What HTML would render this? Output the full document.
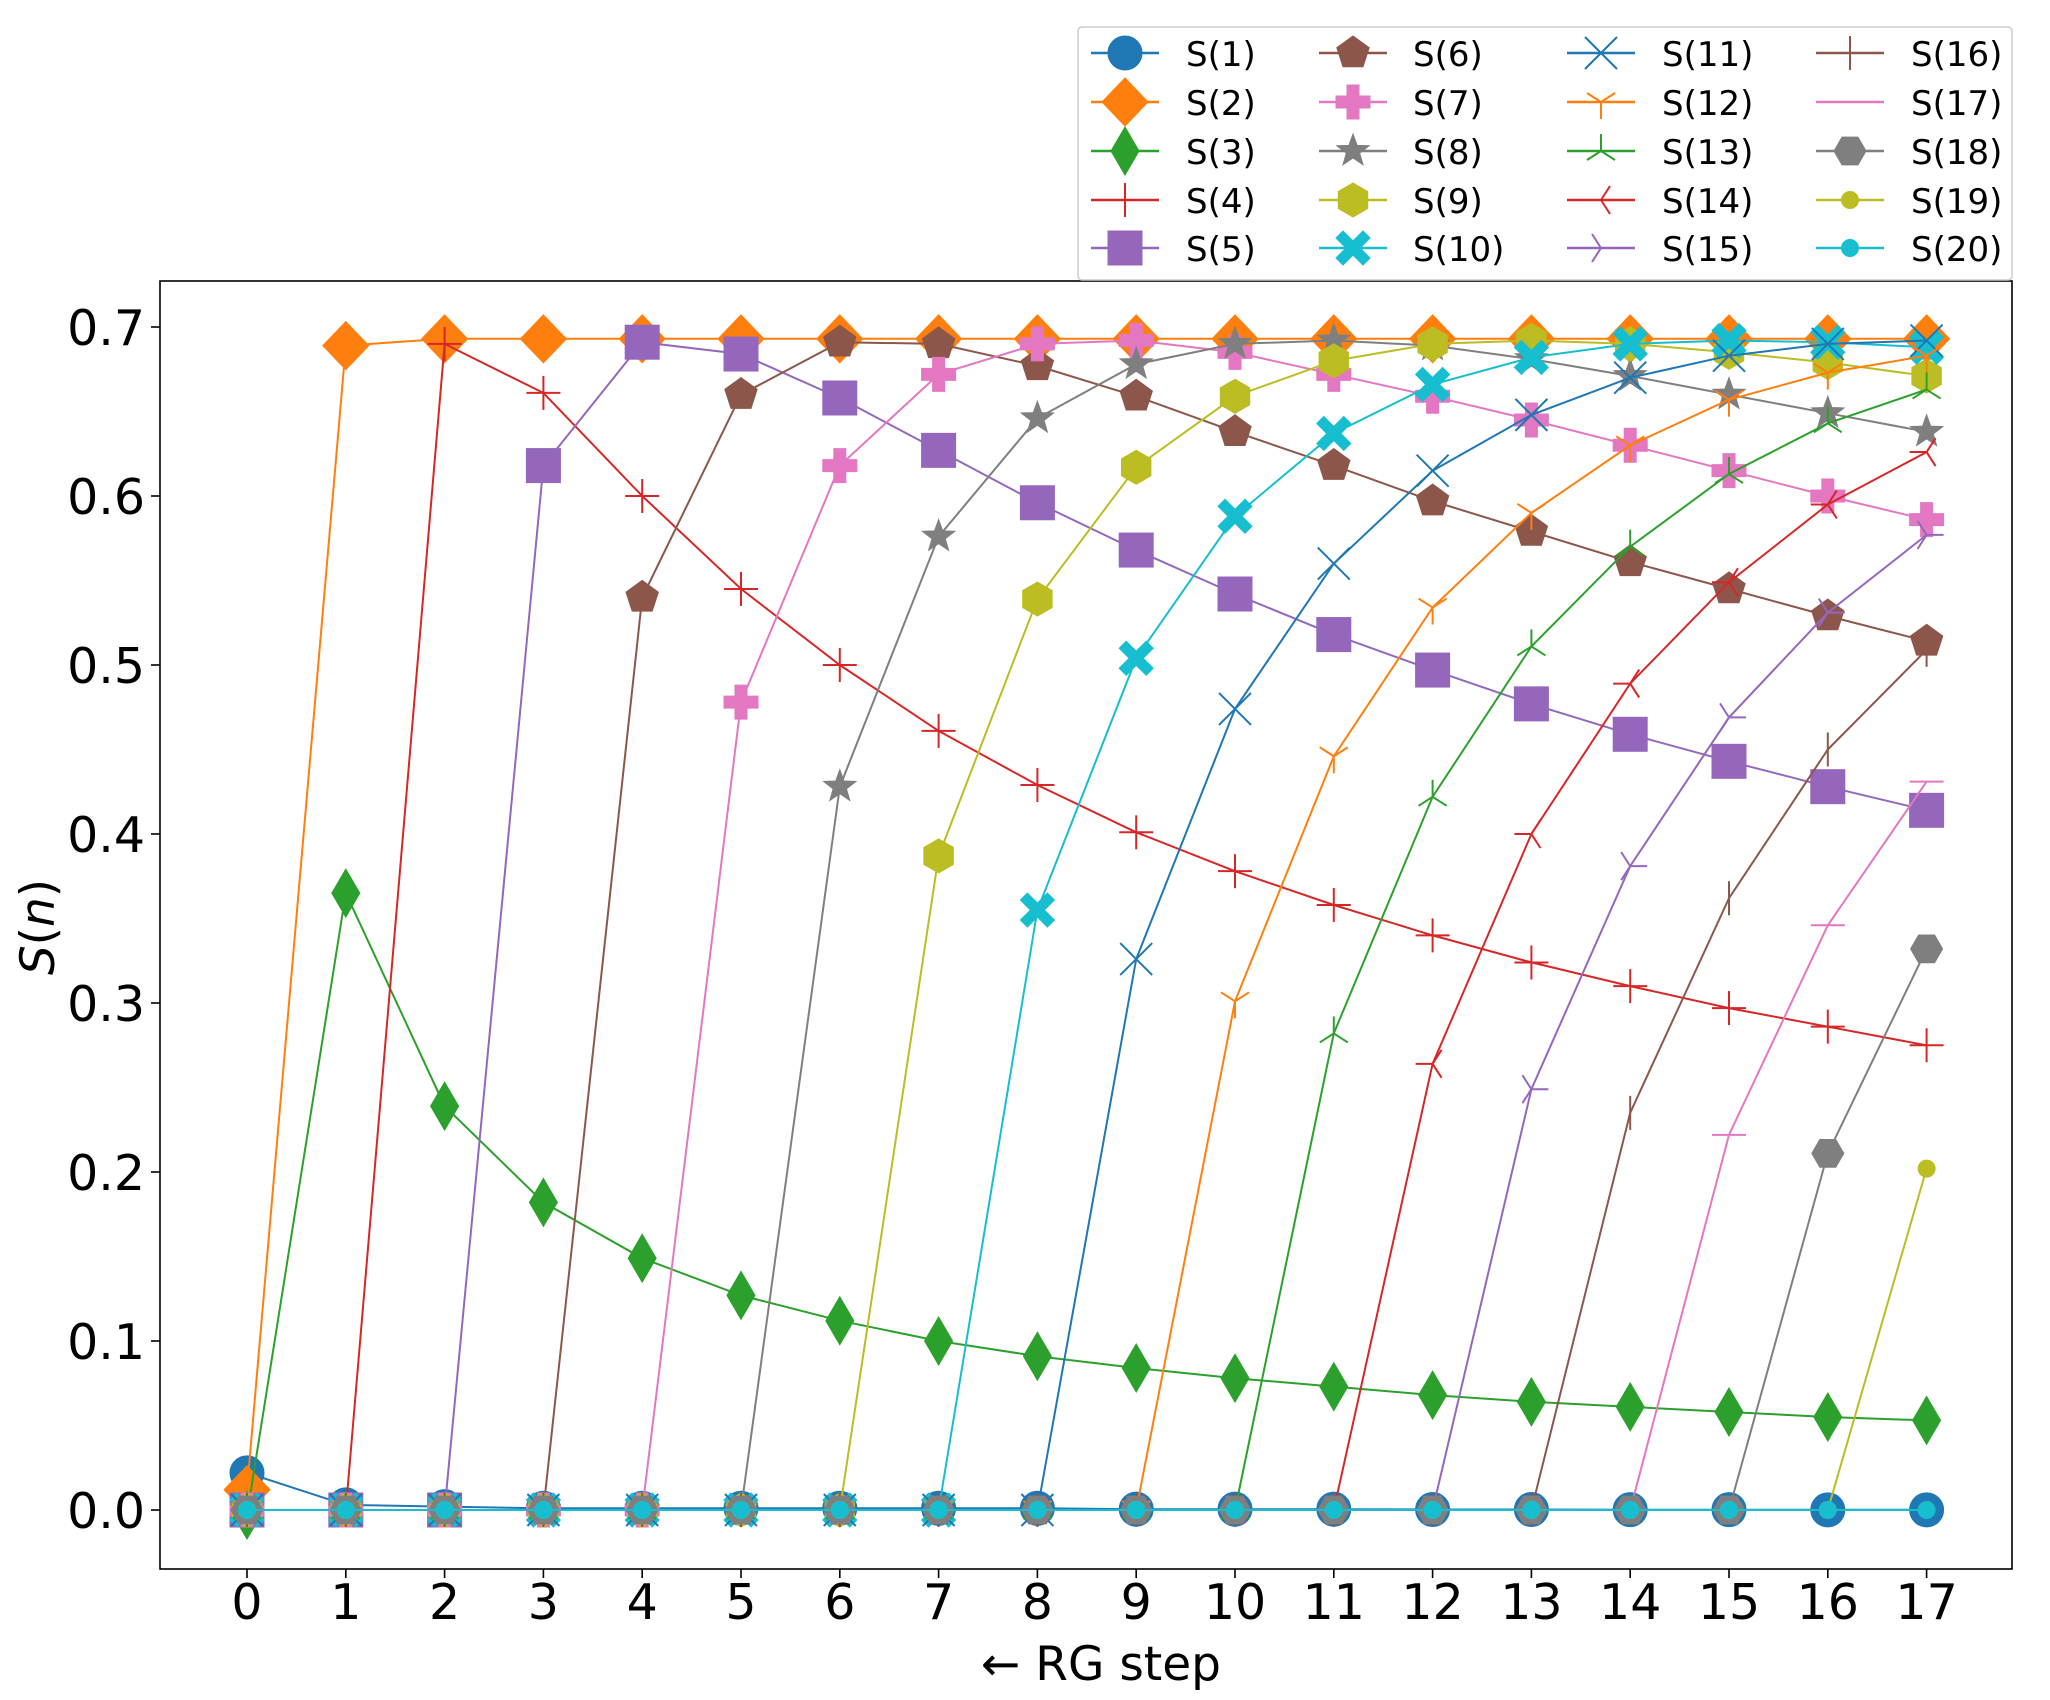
<!DOCTYPE html>
<html><head><meta charset="utf-8">
<style>
html,body{margin:0;padding:0;background:#fff;}
svg{display:block;font-family:"DejaVu Sans","Liberation Sans",sans-serif;}
</style></head>
<body>
<svg id="chart" width="2050" height="1700" viewBox="0 0 2050 1700" xmlns="http://www.w3.org/2000/svg">
<rect x="0" y="0" width="2050" height="1700" fill="#fff"/>
<g id="plot"></g>
<g id="axes"></g>
<g id="legend"></g>
</svg>
<script>
const steps = [0,1,2,3,4,5,6,7,8,9,10,11,12,13,14,15,16,17];
const yTicks = [0.0,0.1,0.2,0.3,0.4,0.5,0.6,0.7];
const yTickLabels = ["0.0","0.1","0.2","0.3","0.4","0.5","0.6","0.7"];
const seriesNames = ["S(1)","S(2)","S(3)","S(4)","S(5)","S(6)","S(7)","S(8)","S(9)","S(10)","S(11)","S(12)","S(13)","S(14)","S(15)","S(16)","S(17)","S(18)","S(19)","S(20)"];
const s1 = [0.022,0.003,0.002,0.001,0.001,0.001,0.001,0.001,0.001,0.0005,0.0005,0.0005,0.0003,0.0003,0.0002,0.0002,0.0001,0.0001];
const s2 = [0.012,0.689,0.693,0.693,0.693,0.693,0.693,0.693,0.693,0.693,0.693,0.693,0.693,0.693,0.693,0.693,0.693,0.693];
const s3 = [-0.003,0.365,0.239,0.182,0.149,0.127,0.112,0.100,0.091,0.084,0.078,0.073,0.068,0.064,0.061,0.058,0.055,0.053];
const s4 = [0,0,0.690,0.661,0.600,0.545,0.500,0.461,0.429,0.401,0.378,0.358,0.340,0.324,0.310,0.297,0.286,0.275];
const s5 = [0,0,0,0.618,0.691,0.684,0.658,0.627,0.596,0.568,0.542,0.518,0.497,0.477,0.459,0.443,0.428,0.414];
const s6 = [0,0,0,0,0.540,0.660,0.691,0.690,0.677,0.659,0.638,0.618,0.597,0.579,0.561,0.545,0.529,0.514];
const s7 = [0,0,0,0,0,0.478,0.618,0.672,0.690,0.692,0.685,0.672,0.659,0.645,0.630,0.615,0.600,0.586];
const s8 = [0,0,0,0,0,0,0.428,0.576,0.646,0.678,0.690,0.692,0.689,0.681,0.671,0.660,0.649,0.638];
const s9 = [0,0,0,0,0,0,0,0.387,0.539,0.617,0.659,0.680,0.690,0.692,0.690,0.685,0.679,0.671];
const s10 = [0,0,0,0,0,0,0,0,0.355,0.504,0.588,0.637,0.666,0.682,0.690,0.692,0.691,0.688];
const s11 = [0,0,0,0,0,0,0,0,0,0.326,0.474,0.560,0.615,0.648,0.670,0.683,0.690,0.692];
const s12 = [0,0,0,0,0,0,0,0,0,0,0.301,0.446,0.534,0.590,0.630,0.657,0.673,0.683];
const s13 = [0,0,0,0,0,0,0,0,0,0,0,0.282,0.422,0.511,0.570,0.613,0.643,0.663];
const s14 = [0,0,0,0,0,0,0,0,0,0,0,0,0.264,0.400,0.489,0.549,0.595,0.626];
const s15 = [0,0,0,0,0,0,0,0,0,0,0,0,0,0.249,0.381,0.469,0.531,0.577];
const s16 = [0,0,0,0,0,0,0,0,0,0,0,0,0,0,0.235,0.362,0.450,0.509];
const s17 = [0,0,0,0,0,0,0,0,0,0,0,0,0,0,0,0.222,0.346,0.431];
const s18 = [0,0,0,0,0,0,0,0,0,0,0,0,0,0,0,0,0.211,0.332];
const s19 = [0,0,0,0,0,0,0,0,0,0,0,0,0,0,0,0,0,0.202];
const s20 = [0,0,0,0,0,0,0,0,0,0,0,0,0,0,0,0,0,0];
const allSeries = [s1,s2,s3,s4,s5,s6,s7,s8,s9,s10,s11,s12,s13,s14,s15,s16,s17,s18,s19,s20];

const NS = "http://www.w3.org/2000/svg";
const AX = {l:160, r:2012, t:281, b:1569};
const X0 = 247, XSTEP = 98.8, Y0 = 1510, YPER = 1690;
function xs(v){ return X0 + v*XSTEP; }
function ys(v){ return Y0 - v*YPER; }
const colors = ["#1f77b4","#ff7f0e","#2ca02c","#d62728","#9467bd","#8c564b","#e377c2","#7f7f7f","#bcbd22","#17becf"];
const markers = ["o","D","d","+","s","p","P","*","h","X","x","1","2","3","4","|","_","H",".","."];

function el(tag, attrs, parent){
  const e = document.createElementNS(NS, tag);
  for (const k in attrs) e.setAttribute(k, attrs[k]);
  parent.appendChild(e);
  return e;
}
function poly(n, r, rot){
  const p=[];
  for(let i=0;i<n;i++){const a=rot+i*2*Math.PI/n;p.push((r*Math.sin(a)).toFixed(2)+","+(-r*Math.cos(a)).toFixed(2));}
  return p.join(" ");
}
function drawMarker(g, type, cx, cy, c){
  const m = document.createElementNS(NS,"g");
  m.setAttribute("transform","translate("+cx+","+cy+")");
  g.appendChild(m);
  const f={fill:c,stroke:c,"stroke-width":1};
  const ln=(x1,y1,x2,y2)=>el("line",{x1,y1,x2,y2,stroke:c,"stroke-width":2},m);
  switch(type){
    case "o": el("circle",Object.assign({r:17},f),m); break;
    case "D": el("polygon",Object.assign({points:"0,-24 23,0 0,24 -23,0"},f),m); break;
    case "d": el("polygon",Object.assign({points:"0,-24 14,0 0,24 -14,0"},f),m); break;
    case "+": ln(-17,0,17,0); ln(0,-17,0,17); break;
    case "s": el("rect",Object.assign({x:-17,y:-17,width:34,height:34},f),m); break;
    case "p": el("polygon",Object.assign({points:poly(5,17,0)},f),m); break;
    case "P": el("polygon",Object.assign({points:"-6,-17 6,-17 6,-6 17,-6 17,6 6,6 6,17 -6,17 -6,6 -17,6 -17,-6 -6,-6"},f),m); break;
    case "*": { const p=[]; for(let i=0;i<10;i++){const r=i%2?7:17;const a=i*Math.PI/5;p.push((r*Math.sin(a)).toFixed(2)+","+(-r*Math.cos(a)).toFixed(2));} el("polygon",Object.assign({points:p.join(" ")},f),m); break; }
    case "h": el("polygon",Object.assign({points:poly(6,17,0)},f),m); break;
    case "H": el("polygon",Object.assign({points:poly(6,16,Math.PI/6)},f),m); break;
    case "X": el("polygon",Object.assign({points:"-10,-17 0,-7 10,-17 17,-10 7,0 17,10 10,17 0,7 -10,17 -17,10 -7,0 -17,-10"},f),m); break;
    case "x": ln(-16,-16,16,16); ln(-16,16,16,-16); break;
    case "1": ln(0,0,0,17); ln(0,0,-14,-9); ln(0,0,14,-9); break;
    case "2": ln(0,0,0,-17); ln(0,0,-14,9); ln(0,0,14,9); break;
    case "3": ln(0,0,-17,0); ln(0,0,9,-14); ln(0,0,9,14); break;
    case "4": ln(0,0,17,0); ln(0,0,-9,-14); ln(0,0,-9,14); break;
    case "|": ln(0,-17,0,17); break;
    case "_": ln(-17,0,17,0); break;
    case ".": el("circle",Object.assign({r:8.5},f),m); break;
  }
  return m;
}

const plot = document.getElementById("plot");
allSeries.forEach((vals, i)=>{
  const c = colors[i%10];
  const g = el("g",{},plot);
  
  
  const pts = vals.map((v,j)=>xs(steps[j]).toFixed(1)+","+ys(v).toFixed(1)).join(" ");
  const pl = el("polyline",{points:pts,fill:"none",stroke:c,"stroke-width":2},g);
  
  
  vals.forEach((v,j)=>{
    const mk = drawMarker(g, markers[i], xs(steps[j]), ys(v), c);
    
    
  });
});

const axes = document.getElementById("axes");
const frame = el("rect",{x:AX.l,y:AX.t,width:AX.r-AX.l,height:AX.b-AX.t,fill:"none",stroke:"#000","stroke-width":1.6},axes);


steps.forEach(s=>{
  const x=xs(s);
  el("line",{x1:x,y1:AX.b,x2:x,y2:AX.b+9,stroke:"#000","stroke-width":1.6},axes);
  const t=el("text",{x:x,y:1619,"font-size":49,"text-anchor":"middle",fill:"#000"},axes);
  t.textContent=String(s);
  
  
});
yTicks.forEach((v,i)=>{
  const y=ys(v);
  el("line",{x1:AX.l-9,y1:y,x2:AX.l,y2:y,stroke:"#000","stroke-width":1.6},axes);
  const t=el("text",{x:145,y:y+18,"font-size":49,"text-anchor":"end",fill:"#000"},axes);
  t.textContent=yTickLabels[i];
  
  
});
const xl=el("text",{x:1101,y:1680,"font-size":47,"text-anchor":"middle",fill:"#000"},axes);
xl.textContent="← RG step";


const yl=el("text",{x:0,y:0,"font-size":47,"text-anchor":"middle",fill:"#000",transform:"translate(54,927) rotate(-90)"},axes);
yl.innerHTML='<tspan font-style="italic">S</tspan>(<tspan font-style="italic">n</tspan>)';



const leg = document.getElementById("legend");
const lb = el("rect",{x:1078,y:27,width:934,height:253,rx:4,fill:"#fff",stroke:"#ccc","stroke-width":1.5},leg);


const colX=[1125,1353,1601,1850], textX=[1186,1413,1662,1911], rowY=[53,102,151,200,248];
seriesNames.forEach((nm,i)=>{
  const col=Math.floor(i/5), row=i%5, c=colors[i%10];
  const g=el("g",{},leg);
  
  
  const x=colX[col], y=rowY[row];
  el("line",{x1:x-34,y1:y,x2:x+34,y2:y,stroke:c,"stroke-width":2.5},g);
  drawMarker(g, markers[i], x, y, c);
  const t=el("text",{x:textX[col],y:y+13,"font-size":34,fill:"#000"},g);
  t.textContent=nm;
});
</script>
</body></html>
